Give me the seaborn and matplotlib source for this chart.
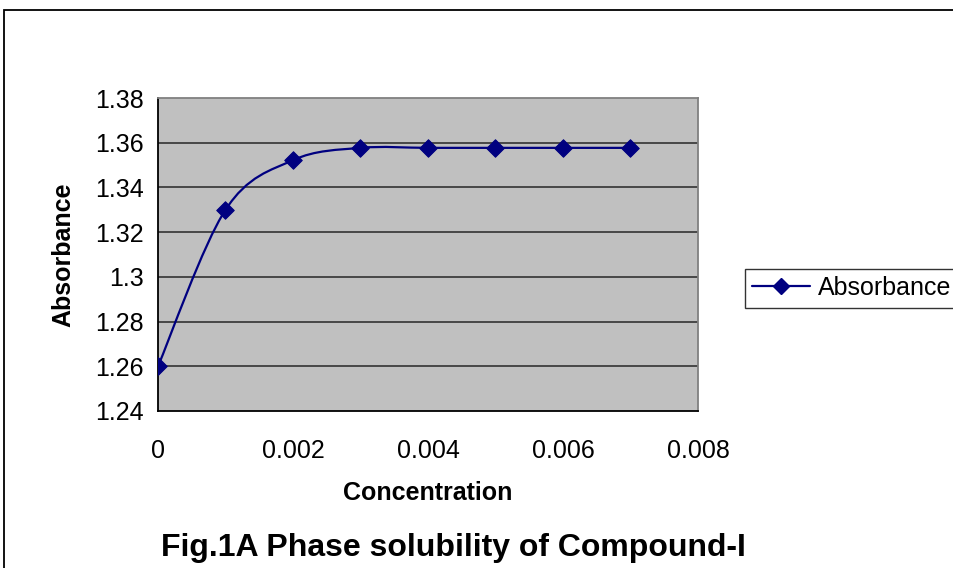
"""
Phase solubility of Compound-I - courbe d'absorbance (style Excel)
"""

import numpy as np
import matplotlib
matplotlib.use('Agg')
import matplotlib.pyplot as plt
import matplotlib.patches as mpatches
from matplotlib.path import Path
from matplotlib.lines import Line2D
import seaborn as sns
import pandas as pd

# Données
concentration = [0.0, 0.001, 0.002, 0.003, 0.004, 0.005, 0.006, 0.007]
absorbance = [1.26, 1.330, 1.3522, 1.3577, 1.3577, 1.3577, 1.3577, 1.3577]
x_ticks = [0, 0.002, 0.004, 0.006, 0.008]
x_tick_labels = ["0", "0.002", "0.004", "0.006", "0.008"]
y_ticks = [1.24, 1.26, 1.28, 1.30, 1.32, 1.34, 1.36, 1.38]
y_tick_labels = ["1.24", "1.26", "1.28", "1.3", "1.32", "1.34", "1.36", "1.38"]

df = pd.DataFrame({"Concentration": concentration, "Absorbance": absorbance})

sns.set_style("white")
plt.rcParams['font.family'] = ['Liberation Sans', 'DejaVu Sans']
plt.rcParams['text.color'] = 'black'
plt.rcParams['axes.labelcolor'] = 'black'
plt.rcParams['xtick.color'] = 'black'
plt.rcParams['ytick.color'] = 'black'

NAVY = '#000080'

fig = plt.figure(figsize=(9.54, 5.68), dpi=100)
ax = fig.add_axes([158/954, 1 - 411/568, 540/954, 313/568])
ax.set_facecolor('#C0C0C0')

# Courbe lissée (Bezier type Catmull-Rom, comme le "lissage" Excel)
xs = np.array(df["Concentration"])
ys = np.array(df["Absorbance"])
verts = [(xs[0], ys[0])]
codes = [Path.MOVETO]
n = len(xs)
for i in range(n - 1):
    p0 = (xs[max(i - 1, 0)], ys[max(i - 1, 0)])
    p1 = (xs[i], ys[i])
    p2 = (xs[i + 1], ys[i + 1])
    p3 = (xs[min(i + 2, n - 1)], ys[min(i + 2, n - 1)])
    c1 = (p1[0] + (p2[0] - p0[0]) / 6, p1[1] + (p2[1] - p0[1]) / 6)
    c2 = (p2[0] - (p3[0] - p1[0]) / 6, p2[1] - (p3[1] - p1[1]) / 6)
    verts += [c1, c2, p2]
    codes += [Path.CURVE4, Path.CURVE4, Path.CURVE4]
ax.add_patch(mpatches.PathPatch(Path(verts, codes), facecolor='none',
                                edgecolor=NAVY, lw=1.6, zorder=3))

# Marqueurs
sns.scatterplot(data=df, x="Concentration", y="Absorbance", marker='D', s=80,
                color=NAVY, edgecolor=NAVY, ax=ax, zorder=4, legend=False)

ax.set_xlim(0, 0.008)
ax.set_ylim(1.24, 1.38)
ax.set_xticks(x_ticks)
ax.set_xticklabels(x_tick_labels)
ax.set_yticks(y_ticks)
ax.set_yticklabels(y_tick_labels)
ax.tick_params(axis='both', labelsize=18, direction='out', length=8,
               width=1, color='black', labelcolor='black')
ax.tick_params(axis='x', pad=12)
ax.tick_params(axis='y', pad=2.5)
for t in y_ticks[1:-1]:
    ax.axhline(t, color='#333333', lw=1.2, zorder=1)

ax.spines['left'].set_color('black')
ax.spines['bottom'].set_color('black')
ax.spines['top'].set_color('#808080')
ax.spines['right'].set_color('#808080')
for s in ax.spines.values():
    s.set_linewidth(1.3)
    s.set_visible(True)

ax.set_xlabel("Concentration", fontsize=18, fontweight='bold', labelpad=13,
              color='black')
ax.set_ylabel("Absorbance", fontsize=18, fontweight='bold', labelpad=14,
              color='black')

# Légende
handle = Line2D([], [], color=NAVY, lw=1.6, marker='D', markersize=8)
leg = fig.legend([handle], ["Absorbance"], loc='center left',
                 bbox_to_anchor=(745/954, 1 - 288/568), fontsize=18,
                 frameon=True, fancybox=False, handlelength=2.3,
                 handletextpad=0.3, borderpad=0.3, borderaxespad=0)
leg.get_frame().set_edgecolor('black')
leg.get_frame().set_linewidth(1.0)

# Titre de la figure
fig.text(453/954, 1 - 548/568, "Fig.1A Phase solubility of Compound-I",
         fontsize=23, fontweight='bold', ha='center', va='center',
         color='black')

# Cadre extérieur
fig.patches.append(mpatches.Rectangle((4/954, -0.1), 1.2, 1.1 - 10/568,
                                      transform=fig.transFigure, fill=False,
                                      edgecolor='black', lw=1.3, clip_on=False))

plt.savefig("out.png", dpi=100)
plt.close()
